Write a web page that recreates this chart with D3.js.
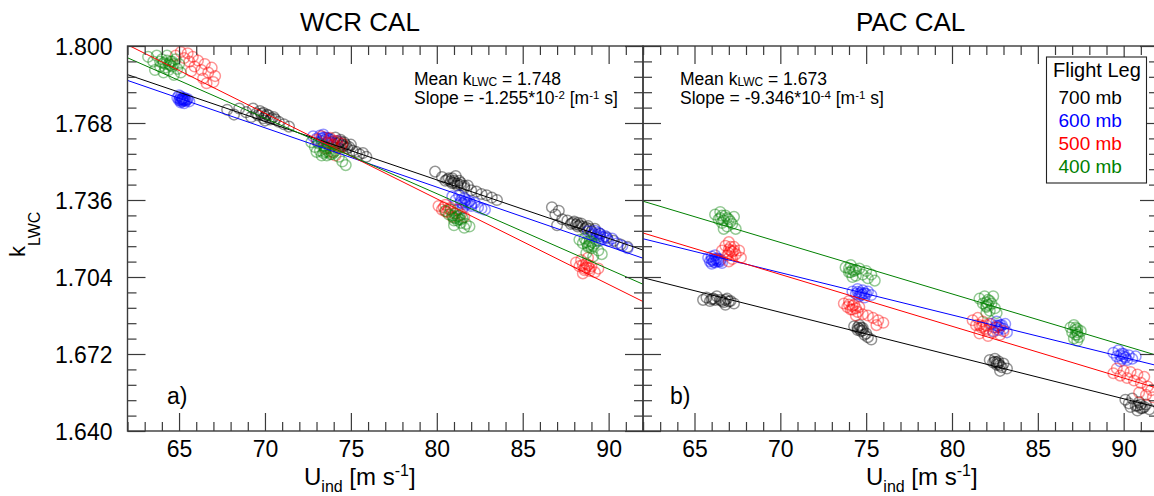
<!DOCTYPE html>
<html><head><meta charset="utf-8">
<script src="https://cdn.jsdelivr.net/npm/d3@7"></script>
<style>
html,body{margin:0;padding:0;background:#fff;}
svg{display:block;font-family:"Liberation Sans",Arial,Helvetica,sans-serif;}
</style></head>
<body><svg id="chart" width="1154" height="496"></svg>
<script>
// ---------------- DATA ----------------
const legs = ["700 mb", "600 mb", "500 mb", "400 mb"];
const legColors = ["#000000", "#0000ff", "#ff0000", "#008000"];
const xMajorTicks = [65, 70, 75, 80, 85, 90];
const yMajorTicks = [1.640, 1.672, 1.704, 1.736, 1.768, 1.800];
const xDomain = [62, 92];
const yDomain = [1.640, 1.800];

// WCR CAL (panel a) scatter, [U_ind, k_LWC]
const wcr700 = [[67.8,1.7735],[68.2,1.7715],[68.5,1.7740],[68.9,1.7725],[69.2,1.7705],[69.5,1.7720],[69.7,1.7730],[69.9,1.7700],[70.1,1.7715],[70.3,1.7695],[70.5,1.7705],[70.8,1.7685],[71.1,1.7675],[71.4,1.7665],[70.0,1.7690],[69.3,1.7740],
 [69.6,1.7712],[69.8,1.7718],[70.0,1.7708],[70.2,1.7712],[70.4,1.7700],[69.9,1.7722],[70.6,1.7695],
 [73.7,1.7615],[73.9,1.7600],[74.1,1.7620],[74.2,1.7595],[74.4,1.7610],[74.5,1.7585],[74.6,1.7600],[74.8,1.7575],[75.0,1.7590],[75.1,1.7565],[75.3,1.7560],[75.5,1.7550],[75.7,1.7555],[75.9,1.7540],[74.3,1.7575],
 [74.3,1.7598],[74.5,1.7592],[74.7,1.7590],[74.4,1.7603],[74.6,1.7583],[74.9,1.7580],
 [79.9,1.7478],[80.3,1.7455],[80.5,1.7440],[80.7,1.7450],[80.9,1.7430],[81.0,1.7440],[81.2,1.7420],[81.4,1.7432],[81.6,1.7410],[81.8,1.7420],[82.0,1.7400],[82.3,1.7395],[82.6,1.7385],[82.9,1.7380],[83.2,1.7370],[83.5,1.7360],[81.1,1.7460],
 [80.6,1.7445],[80.8,1.7438],[81.0,1.7432],[81.2,1.7428],[81.4,1.7422],[81.6,1.7418],[80.9,1.7450],[81.3,1.7440],
 [86.7,1.7330],[86.9,1.7300],[87.1,1.7315],[87.3,1.7280],[87.6,1.7275],[87.8,1.7260],[88.0,1.7270],[88.2,1.7250],[88.4,1.7262],[88.6,1.7240],[88.8,1.7252],[89.0,1.7230],[89.2,1.7240],[89.5,1.7220],[89.9,1.7205],[90.3,1.7190],[90.7,1.7175],[91.1,1.7165],[87.0,1.7255],
 [87.9,1.7265],[88.1,1.7258],[88.3,1.7255],[88.5,1.7250],[88.7,1.7245],[88.9,1.7240],[88.2,1.7265]];
const wcr600 = [[64.9,1.7785],[65.0,1.7775],[65.1,1.7790],[65.2,1.7770],[65.2,1.7780],[65.3,1.7785],[65.4,1.7772],[65.5,1.7780],[65.1,1.7765],[65.3,1.7762],[65.6,1.7770],[65.0,1.7795],
 [65.15,1.7778],[65.25,1.7776],[65.35,1.7779],[65.05,1.7780],[65.2,1.7783],[65.3,1.7773],[65.45,1.7776],[65.1,1.7772],
 [72.8,1.7625],[73.0,1.7615],[73.2,1.7628],[73.3,1.7605],[73.5,1.7620],[73.6,1.7598],[73.8,1.7612],[74.0,1.7595],[73.1,1.7600],[73.4,1.7632],[74.2,1.7605],
 [73.3,1.7615],[73.5,1.7610],[73.7,1.7605],[73.4,1.7620],[73.6,1.7618],
 [80.9,1.7375],[81.1,1.7360],[81.3,1.7380],[81.4,1.7350],[81.6,1.7368],[81.7,1.7340],[81.9,1.7355],[82.0,1.7335],[82.2,1.7348],[82.4,1.7330],[82.6,1.7325],[82.8,1.7320],[81.5,1.7325],
 [81.4,1.7360],[81.6,1.7352],[81.8,1.7348],[82.0,1.7342],[81.7,1.7360],[81.5,1.7345],
 [88.8,1.7230],[89.0,1.7215],[89.2,1.7232],[89.3,1.7205],[89.5,1.7220],[89.6,1.7195],[89.8,1.7210],[90.0,1.7190],[90.2,1.7200],[90.5,1.7180],[90.8,1.7170],[91.1,1.7160],[89.4,1.7190],
 [89.1,1.7222],[89.3,1.7215],[89.5,1.7210],[89.7,1.7205],[89.9,1.7200],[89.4,1.7225]];
const wcr500 = [[64.8,1.7960],[65.1,1.7975],[65.3,1.7950],[65.5,1.7970],[65.6,1.7935],[65.8,1.7955],[65.9,1.7915],[66.1,1.7940],[66.3,1.7900],[66.5,1.7925],[66.7,1.7890],[66.9,1.7910],[67.1,1.7875],[66.4,1.7865],[65.7,1.7895],[67.0,1.7850],[66.6,1.7845],
 [73.0,1.7610],[73.3,1.7625],[73.6,1.7600],[73.8,1.7618],[74.0,1.7590],[74.2,1.7605],[74.4,1.7580],[73.9,1.7560],[74.1,1.7545],[73.5,1.7575],[74.5,1.7595],
 [73.7,1.7595],[74.0,1.7605],[73.9,1.7585],
 [80.1,1.7335],[80.3,1.7320],[80.5,1.7340],[80.6,1.7310],[80.8,1.7328],[81.0,1.7305],[81.2,1.7320],[81.4,1.7300],[81.6,1.7290],[80.9,1.7290],
 [80.4,1.7330],[80.7,1.7322],[80.5,1.7312],
 [88.1,1.7100],[88.3,1.7085],[88.4,1.7110],[88.6,1.7075],[88.7,1.7095],[88.9,1.7065],[89.0,1.7085],[89.2,1.7060],[89.4,1.7075],[88.5,1.7055],[88.8,1.7120],
 [88.5,1.7090],[88.7,1.7080],[88.9,1.7075],[88.6,1.7068],[88.8,1.7090]];
const wcr400 = [[63.2,1.7955],[63.5,1.7935],[63.7,1.7960],[63.9,1.7915],[64.0,1.7945],[64.2,1.7925],[64.3,1.7960],[64.4,1.7900],[64.5,1.7935],[64.6,1.7915],[64.8,1.7945],[64.9,1.7905],[65.0,1.7925],[65.1,1.7890],[64.1,1.7890],[63.6,1.7900],[64.7,1.7880],
 [64.1,1.7930],[64.3,1.7940],[64.5,1.7920],[64.6,1.7935],[64.2,1.7910],[64.4,1.7925],[63.9,1.7935],[64.7,1.7925],
 [72.7,1.7600],[72.9,1.7580],[73.1,1.7595],[73.2,1.7565],[73.4,1.7585],[73.5,1.7560],[73.6,1.7545],[73.8,1.7575],[73.9,1.7550],[74.1,1.7565],[74.3,1.7540],[74.5,1.7520],[74.7,1.7505],[73.3,1.7545],[73.0,1.7560],
 [73.5,1.7570],[73.7,1.7560],[73.4,1.7555],[73.8,1.7550],[73.6,1.7575],[74.0,1.7558],
 [80.5,1.7315],[80.7,1.7300],[80.8,1.7320],[81.0,1.7285],[81.1,1.7305],[81.2,1.7275],[81.3,1.7295],[81.4,1.7265],[81.5,1.7285],[81.7,1.7260],[81.9,1.7250],[81.0,1.7255],[81.6,1.7245],
 [80.9,1.7295],[81.1,1.7285],[81.3,1.7280],[81.2,1.7292],[81.0,1.7275],[81.4,1.7278],
 [88.3,1.7195],[88.5,1.7180],[88.6,1.7200],[88.8,1.7170],[88.9,1.7190],[89.0,1.7160],[89.2,1.7178],[89.4,1.7150],[89.6,1.7135],[88.7,1.7140],[89.1,1.7125],
 [88.7,1.7185],[88.9,1.7175],[89.0,1.7185],[88.8,1.7165],[89.1,1.7170]];

// PAC CAL (panel b) scatter
const pac700 = [[65.5,1.6945],[65.7,1.6955],[65.9,1.6940],[66.1,1.6950],[66.5,1.6945],[66.7,1.6935],[66.9,1.6950],[67.1,1.6940],[67.3,1.6930],[66.8,1.6925],[66.3,1.6960],
 [66.0,1.6948],[66.2,1.6945],[66.6,1.6940],[66.8,1.6945],[67.0,1.6938],
 [74.3,1.6835],[74.5,1.6820],[74.6,1.6840],[74.7,1.6815],[74.8,1.6828],[75.0,1.6805],[75.1,1.6790],[75.3,1.6780],[74.9,1.6800],
 [74.5,1.6830],[74.6,1.6825],[74.7,1.6830],[74.8,1.6818],
 [82.2,1.6695],[82.4,1.6685],[82.5,1.6700],[82.6,1.6675],[82.7,1.6690],[82.9,1.6665],[83.0,1.6680],[83.2,1.6660],[82.8,1.6650],
 [82.5,1.6688],[82.7,1.6680],[82.6,1.6685],[82.8,1.6672],
 [90.1,1.6530],[90.3,1.6515],[90.5,1.6535],[90.7,1.6505],[90.9,1.6520],[91.1,1.6495],[91.3,1.6510],[91.5,1.6490],[90.8,1.6485],[90.4,1.6500],
 [90.8,1.6505],[91.0,1.6510],[91.2,1.6500],[91.0,1.6495]];
const pac600 = [[65.8,1.7120],[65.9,1.7105],[66.0,1.7125],[66.1,1.7110],[66.2,1.7100],[66.3,1.7118],[66.4,1.7105],[66.5,1.7112],[66.6,1.7098],[66.0,1.7095],[66.2,1.7130],
 [66.0,1.7112],[66.2,1.7115],[66.3,1.7108],[66.4,1.7115],[66.1,1.7103],[66.5,1.7105],
 [74.2,1.6980],[74.4,1.6970],[74.5,1.6990],[74.7,1.6965],[74.8,1.6985],[75.0,1.6970],[75.1,1.6980],[75.3,1.6965],[74.9,1.6955],[74.6,1.6960],
 [74.5,1.6978],[74.7,1.6975],[74.9,1.6972],[74.6,1.6970],[74.8,1.6968],
 [82.3,1.6845],[82.5,1.6830],[82.6,1.6855],[82.7,1.6820],[82.8,1.6840],[83.0,1.6825],[83.1,1.6845],[83.2,1.6810],[82.4,1.6815],
 [82.6,1.6838],[82.8,1.6830],[82.9,1.6840],[82.7,1.6835],
 [89.4,1.6725],[89.6,1.6710],[89.7,1.6735],[89.9,1.6700],[90.0,1.6720],[90.2,1.6695],[90.3,1.6715],[90.5,1.6700],[90.7,1.6710],[89.8,1.6690],
 [89.8,1.6715],[90.0,1.6710],[90.1,1.6705],[89.9,1.6722]];
const pac500 = [[66.6,1.7150],[66.8,1.7170],[66.9,1.7130],[67.0,1.7185],[67.1,1.7150],[67.2,1.7115],[67.3,1.7165],[67.4,1.7135],[67.6,1.7150],[67.7,1.7120],[67.0,1.7105],
 [67.0,1.7155],[67.2,1.7145],[67.1,1.7165],[67.3,1.7150],[67.0,1.7140],
 [73.7,1.6930],[73.9,1.6915],[74.0,1.6940],[74.2,1.6905],[74.3,1.6925],[74.5,1.6895],[74.6,1.6915],[74.8,1.6885],[75.1,1.6880],[75.4,1.6870],[75.7,1.6860],[76.0,1.6850],[75.6,1.6840],[74.4,1.6880],
 [74.0,1.6925],[74.2,1.6920],[74.4,1.6910],[74.1,1.6905],
 [81.2,1.6860],[81.4,1.6840],[81.5,1.6870],[81.7,1.6830],[81.8,1.6855],[82.0,1.6820],[82.2,1.6845],[82.4,1.6810],[82.6,1.6830],[82.8,1.6800],[83.0,1.6815],[81.6,1.6805],[82.1,1.6795],
 [81.6,1.6840],[81.8,1.6835],[82.0,1.6840],[81.9,1.6825],
 [89.4,1.6640],[89.6,1.6660],[89.8,1.6630],[90.0,1.6650],[90.2,1.6620],[90.4,1.6645],[90.6,1.6610],[90.8,1.6635],[91.0,1.6600],[91.2,1.6625],[91.4,1.6585],[91.6,1.6570],[91.3,1.6550],[90.9,1.6560],[91.7,1.6540]];
const pac400 = [[66.2,1.7300],[66.4,1.7280],[66.5,1.7310],[66.6,1.7265],[66.8,1.7295],[66.9,1.7250],[67.0,1.7280],[67.2,1.7260],[67.3,1.7290],[67.4,1.7240],[66.7,1.7240],
 [66.5,1.7285],[66.7,1.7275],[66.6,1.7295],[66.9,1.7285],[67.1,1.7270],
 [73.8,1.7080],[74.0,1.7060],[74.1,1.7090],[74.3,1.7065],[74.4,1.7045],[74.6,1.7075],[74.8,1.7050],[75.0,1.7065],[75.1,1.7035],[75.3,1.7050],[75.5,1.7025],[74.2,1.7040],
 [74.0,1.7075],[74.2,1.7070],[74.1,1.7060],[74.4,1.7070],
 [81.6,1.6950],[81.8,1.6930],[81.9,1.6960],[82.0,1.6915],[82.1,1.6945],[82.2,1.6900],[82.3,1.6930],[82.5,1.6910],[82.6,1.6890],[82.0,1.6890],[82.4,1.6960],
 [82.0,1.6935],[82.1,1.6925],[82.2,1.6940],[82.0,1.6920],
 [86.9,1.6830],[87.0,1.6810],[87.1,1.6840],[87.2,1.6800],[87.3,1.6825],[87.4,1.6790],[87.5,1.6815],[87.3,1.6775],[87.1,1.6785],
 [87.2,1.6820],[87.3,1.6810],[87.2,1.6830],[87.3,1.6800]];

// regression lines: k_LWC at U = 62 and U = 92, per leg (700,600,500,400)
const wcrFitAt62 = [1.7881, 1.7857, 1.8005, 1.7951];
const wcrFitAt92 = [1.7152, 1.7118, 1.6938, 1.7010];
const pacFitAt62 = [1.7037, 1.7199, 1.7223, 1.7355];
const pacFitAt92 = [1.6498, 1.6671, 1.6577, 1.6713];

const panelTitles = ["WCR CAL", "PAC CAL"];
const panelLetters = ["a)", "b)"];
const meanK = ["1.748", "1.673"];
const slopeMant = ["-1.255", "-9.346"];
const slopeExp = ["-2", "-4"];

// ---------------- DRAW ----------------
const svg = d3.select("#chart");
const plotTop = 46, plotBottom = 431;
const y = d3.scaleLinear().domain(yDomain).range([plotBottom, plotTop]);
const axisColor = "#3a3a3a";
const majorLen = 18, minorLen = 9;
const xMinor = d3.range(xDomain[0], xDomain[1] + 1, 1);
const yMinor = d3.range(0, 26).map(i => +(yDomain[0] + i * 0.0064).toFixed(4));

const panels = [
  {x0: 127.5, x1: 643, series: [wcr700, wcr600, wcr500, wcr400], f62: wcrFitAt62, f92: wcrFitAt92,
   titleX: 300, annX: 414, letterX: 167, xlabX: 304, yLabels: true},
  {x0: 643, x1: 1158, series: [pac700, pac600, pac500, pac400], f62: pacFitAt62, f92: pacFitAt92,
   titleX: 856, annX: 680, letterX: 670, xlabX: 866, yLabels: false}
];

const defs = svg.append("defs");

panels.forEach((p, pi) => {
  const x = d3.scaleLinear().domain(xDomain).range([p.x0, p.x1]);
  const clipId = "clip" + pi;
  defs.append("clipPath").attr("id", clipId).append("rect")
    .attr("x", p.x0).attr("y", plotTop).attr("width", p.x1 - p.x0).attr("height", plotBottom - plotTop);
  const g = svg.append("g").attr("clip-path", `url(#${clipId})`);

  p.series.forEach((pts, si) => {
    g.append("g").selectAll("circle").data(pts).join("circle")
      .attr("cx", d => x(d[0])).attr("cy", d => y(d[1])).attr("r", 5.3)
      .attr("fill", "none").attr("stroke", legColors[si])
      .attr("stroke-opacity", 0.42).attr("stroke-width", 1.5);
  });
  legs.forEach((l, si) => {
    g.append("line")
      .attr("x1", x(xDomain[0])).attr("y1", y(p.f62[si]))
      .attr("x2", x(xDomain[1])).attr("y2", y(p.f92[si]))
      .attr("stroke", legColors[si]).attr("stroke-width", 1);
  });

  const axG = svg.append("g").attr("class", "axes");
  const styleAxis = sel => {
    sel.select(".domain").remove();
    sel.selectAll(".tick line").attr("stroke", axisColor).attr("stroke-width", 1.2);
    sel.selectAll(".tick text").attr("fill", "#000");
  };
  const xMinorOnly = xMinor.filter(v => !xMajorTicks.includes(v));
  const yMinorOnly = yMinor.filter(v => !yMajorTicks.some(m => Math.abs(m - v) < 1e-6));

  const bot = axG.append("g").attr("transform", `translate(0,${plotBottom})`)
    .call(d3.axisBottom(x).tickValues(xMajorTicks).tickSizeInner(-majorLen).tickSizeOuter(0).tickPadding(0).tickFormat(d3.format("d")))
    .call(styleAxis);
  bot.selectAll(".tick text").attr("y", 26).attr("dy", 0).attr("font-size", 23)
    .attr("font-family", "Liberation Sans, Arial, sans-serif");
  axG.append("g").attr("transform", `translate(0,${plotBottom})`)
    .call(d3.axisBottom(x).tickValues(xMinorOnly).tickSizeInner(-minorLen).tickSizeOuter(0).tickFormat(""))
    .call(styleAxis);
  axG.append("g").attr("transform", `translate(0,${plotTop})`)
    .call(d3.axisTop(x).tickValues(xMajorTicks).tickSizeInner(-majorLen).tickSizeOuter(0).tickFormat(""))
    .call(styleAxis);
  axG.append("g").attr("transform", `translate(0,${plotTop})`)
    .call(d3.axisTop(x).tickValues(xMinorOnly).tickSizeInner(-minorLen).tickSizeOuter(0).tickFormat(""))
    .call(styleAxis);
  const left = axG.append("g").attr("transform", `translate(${p.x0},0)`)
    .call(d3.axisLeft(y).tickValues(yMajorTicks).tickSizeInner(-majorLen).tickSizeOuter(0).tickPadding(15)
      .tickFormat(p.yLabels ? d3.format(".3f") : ""))
    .call(styleAxis);
  left.selectAll(".tick text").attr("x", -15).attr("dy", "0.35em").attr("font-size", 23)
    .attr("font-family", "Liberation Sans, Arial, sans-serif");
  axG.append("g").attr("transform", `translate(${p.x0},0)`)
    .call(d3.axisLeft(y).tickValues(yMinorOnly).tickSizeInner(-minorLen).tickSizeOuter(0).tickFormat(""))
    .call(styleAxis);
  axG.append("g").attr("transform", `translate(${p.x1},0)`)
    .call(d3.axisRight(y).tickValues(yMajorTicks).tickSizeInner(-majorLen).tickSizeOuter(0).tickFormat(""))
    .call(styleAxis);
  axG.append("g").attr("transform", `translate(${p.x1},0)`)
    .call(d3.axisRight(y).tickValues(yMinorOnly).tickSizeInner(-minorLen).tickSizeOuter(0).tickFormat(""))
    .call(styleAxis);
  axG.append("rect").attr("x", p.x0).attr("y", plotTop).attr("width", p.x1 - p.x0).attr("height", plotBottom - plotTop)
    .attr("fill", "none").attr("stroke", axisColor).attr("stroke-width", 1.4);

  svg.append("text").attr("x", p.titleX).attr("y", 31).attr("font-size", 26).text(panelTitles[pi]);

  const a1 = svg.append("text").attr("x", p.annX).attr("y", 85).attr("font-size", 17.5);
  a1.append("tspan").text("Mean k");
  a1.append("tspan").attr("font-size", 12).attr("dy", 1).text("LWC");
  a1.append("tspan").attr("dy", -1).text(" = " + meanK[pi]);
  const a2 = svg.append("text").attr("x", p.annX).attr("y", 104).attr("font-size", 17.5);
  a2.append("tspan").text("Slope = " + slopeMant[pi] + "*10");
  a2.append("tspan").attr("font-size", 11.5).attr("dy", -5.5).text(slopeExp[pi]);
  a2.append("tspan").attr("dy", 5.5).text(" [m");
  a2.append("tspan").attr("font-size", 11.5).attr("dy", -5.5).text("-1");
  a2.append("tspan").attr("dy", 5.5).text(" s]");

  svg.append("text").attr("x", p.letterX).attr("y", 404).attr("font-size", 23).text(panelLetters[pi]);

  const xl = svg.append("text").attr("x", p.xlabX).attr("y", 485).attr("font-size", 24);
  xl.append("tspan").text("U");
  xl.append("tspan").attr("font-size", 16).attr("dy", 7).text("ind");
  xl.append("tspan").attr("dy", -7).text(" [m s");
  xl.append("tspan").attr("font-size", 16).attr("dy", -9).text("-1");
  xl.append("tspan").attr("dy", 9).text("]");
});

const yl = svg.append("text").attr("transform", "translate(25,257) rotate(-90)").attr("font-size", 22);
yl.append("tspan").text("k");
yl.append("tspan").attr("font-size", 16).attr("dy", 15).text("LWC");

const lg = svg.append("g");
lg.append("rect").attr("x", 1046.5).attr("y", 57).attr("width", 100).attr("height", 126)
  .attr("fill", "#fff").attr("stroke", "#222").attr("stroke-width", 1.1);
lg.append("text").attr("x", 1053).attr("y", 77).attr("font-size", 20).text("Flight Leg");
lg.selectAll("text.leg").data(legs).join("text").attr("class", "leg")
  .attr("x", 1058.5).attr("y", (d, i) => 104 + i * 22.9).attr("font-size", 19)
  .attr("fill", (d, i) => legColors[i]).text(d => d);
</script></body></html>
